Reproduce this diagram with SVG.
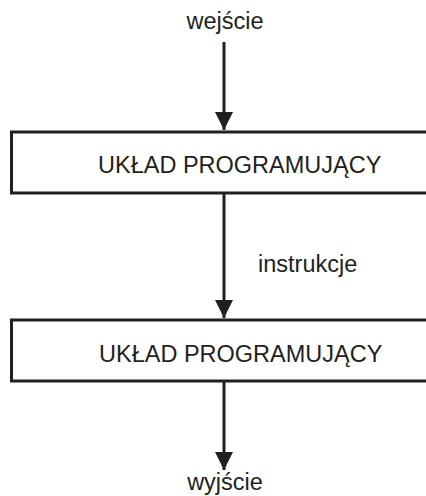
<svg xmlns="http://www.w3.org/2000/svg" width="426" height="496" viewBox="0 0 426 496">
  <style>
    .box { fill: #ffffff; stroke: #231f20; stroke-width: 3; }
    .wire { stroke: #231f20; stroke-width: 3; fill: none; }
    .label { font-family: "Liberation Sans", Arial, sans-serif; font-size: 23.5px; fill: #231f20; }
  </style>
  <defs>
    <marker id="arrow" viewBox="0 0 18 24" refX="18" refY="12" markerWidth="18" markerHeight="24" markerUnits="userSpaceOnUse" orient="auto">
      <path d="M0,3 L18,12 L0,21 Z" fill="#231f20"/>
    </marker>
  </defs>
  <rect width="426" height="496" fill="#ffffff"/>

  <g id="connectors">
    <line class="wire" x1="224" y1="42" x2="224" y2="130" marker-end="url(#arrow)"/>
    <line class="wire" x1="224" y1="193" x2="224" y2="318" marker-end="url(#arrow)"/>
    <line class="wire" x1="224" y1="381" x2="224" y2="470" marker-end="url(#arrow)"/>
  </g>

  <g id="input">
    <text class="label" x="225" y="29" text-anchor="middle">wejście</text>
  </g>

  <g id="programmer-1">
    <rect class="box" x="11.5" y="132" width="430" height="61"/>
    <text class="label" x="98" y="173">UKŁAD PROGRAMUJĄCY</text>
  </g>

  <g id="instructions">
    <text class="label" x="258" y="272">instrukcje</text>
  </g>

  <g id="programmer-2">
    <rect class="box" x="11.5" y="320" width="430" height="61"/>
    <text class="label" x="99" y="362">UKŁAD PROGRAMUJĄCY</text>
  </g>

  <g id="output">
    <text class="label" x="225" y="490" text-anchor="middle">wyjście</text>
  </g>
</svg>
